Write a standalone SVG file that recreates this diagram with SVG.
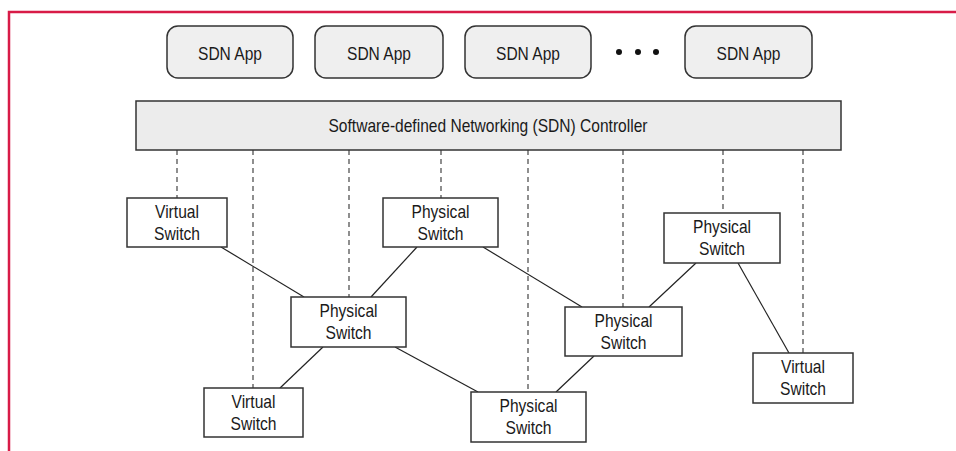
<svg xmlns="http://www.w3.org/2000/svg" width="956" height="451" viewBox="0 0 956 451">
<style>
  .frame { fill: none; stroke: #d81b47; stroke-width: 2.5; }
  .app { fill: #efefef; stroke: #333; stroke-width: 1.5; }
  .ctrl { fill: #ececec; stroke: #333; stroke-width: 1.5; }
  .sw { fill: #ffffff; stroke: #333; stroke-width: 1.5; }
  .t { font-family: "Liberation Sans", Arial, sans-serif; font-size: 19px; fill: #1a1a1a; text-anchor: middle; }
  .dash { stroke: #333; stroke-width: 1.1; stroke-dasharray: 5 4; fill: none; }
  .link { stroke: #222; stroke-width: 1.2; fill: none; }
  .dot { fill: #111; }
</style>
<rect width="956" height="451" fill="#ffffff"/>
<path class="frame" d="M9,451 V12 H956"/>

<g id="connectors">
  <line class="dash" x1="177" y1="150" x2="177" y2="198"/>
  <line class="dash" x1="253" y1="150" x2="253" y2="388"/>
  <line class="dash" x1="349" y1="150" x2="349" y2="297"/>
  <line class="dash" x1="441" y1="150" x2="441" y2="198"/>
  <line class="dash" x1="528" y1="150" x2="528" y2="392"/>
  <line class="dash" x1="623" y1="150" x2="623" y2="307"/>
  <line class="dash" x1="723" y1="150" x2="723" y2="213"/>
  <line class="dash" x1="803" y1="150" x2="803" y2="353"/>
  <line class="link" x1="221" y1="247" x2="304" y2="297"/>
  <line class="link" x1="417" y1="247" x2="371" y2="297"/>
  <line class="link" x1="483" y1="247" x2="582" y2="307"/>
  <line class="link" x1="323" y1="347" x2="280" y2="388"/>
  <line class="link" x1="395" y1="347" x2="478" y2="392"/>
  <line class="link" x1="594" y1="356" x2="556" y2="392"/>
  <line class="link" x1="696" y1="263" x2="649" y2="307"/>
  <line class="link" x1="738" y1="263" x2="789" y2="353"/>
</g>

<g id="app1">
  <rect class="app" x="167" y="26" width="126" height="52" rx="11"/>
  <text class="t" x="230" y="60" textLength="64" lengthAdjust="spacingAndGlyphs">SDN App</text>
</g>
<g id="app2">
  <rect class="app" x="315" y="26" width="128" height="52" rx="11"/>
  <text class="t" x="379" y="60" textLength="64" lengthAdjust="spacingAndGlyphs">SDN App</text>
</g>
<g id="app3">
  <rect class="app" x="465" y="26" width="126" height="52" rx="11"/>
  <text class="t" x="528" y="60" textLength="64" lengthAdjust="spacingAndGlyphs">SDN App</text>
</g>
<g id="ellipsis">
  <circle class="dot" cx="619" cy="52" r="3"/>
  <circle class="dot" cx="638" cy="52" r="3"/>
  <circle class="dot" cx="656" cy="52" r="3"/>
</g>
<g id="app4">
  <rect class="app" x="685" y="26" width="127" height="52" rx="11"/>
  <text class="t" x="748.5" y="60" textLength="64" lengthAdjust="spacingAndGlyphs">SDN App</text>
</g>

<g id="controller">
  <rect class="ctrl" x="136" y="101" width="705" height="49"/>
  <text class="t" x="488" y="132" textLength="319" lengthAdjust="spacingAndGlyphs">Software-defined Networking (SDN) Controller</text>
</g>

<g id="vs1">
  <rect class="sw" x="127" y="198" width="100" height="49"/>
  <text class="t" x="177" y="218" textLength="44" lengthAdjust="spacingAndGlyphs">Virtual</text>
  <text class="t" x="177" y="240" textLength="46" lengthAdjust="spacingAndGlyphs">Switch</text>
</g>
<g id="ps2">
  <rect class="sw" x="383" y="198" width="115" height="49"/>
  <text class="t" x="440.5" y="218" textLength="58" lengthAdjust="spacingAndGlyphs">Physical</text>
  <text class="t" x="440.5" y="240" textLength="46" lengthAdjust="spacingAndGlyphs">Switch</text>
</g>
<g id="ps3">
  <rect class="sw" x="291" y="297" width="115" height="50"/>
  <text class="t" x="348.5" y="317" textLength="58" lengthAdjust="spacingAndGlyphs">Physical</text>
  <text class="t" x="348.5" y="339" textLength="46" lengthAdjust="spacingAndGlyphs">Switch</text>
</g>
<g id="vs4">
  <rect class="sw" x="204" y="388" width="99" height="49"/>
  <text class="t" x="253.5" y="408" textLength="44" lengthAdjust="spacingAndGlyphs">Virtual</text>
  <text class="t" x="253.5" y="430" textLength="46" lengthAdjust="spacingAndGlyphs">Switch</text>
</g>
<g id="ps5">
  <rect class="sw" x="471" y="392" width="115" height="50"/>
  <text class="t" x="528.5" y="412" textLength="58" lengthAdjust="spacingAndGlyphs">Physical</text>
  <text class="t" x="528.5" y="434" textLength="46" lengthAdjust="spacingAndGlyphs">Switch</text>
</g>
<g id="ps6">
  <rect class="sw" x="565" y="307" width="117" height="49"/>
  <text class="t" x="623.5" y="327" textLength="58" lengthAdjust="spacingAndGlyphs">Physical</text>
  <text class="t" x="623.5" y="349" textLength="46" lengthAdjust="spacingAndGlyphs">Switch</text>
</g>
<g id="ps7">
  <rect class="sw" x="664" y="213" width="116" height="50"/>
  <text class="t" x="722" y="233" textLength="58" lengthAdjust="spacingAndGlyphs">Physical</text>
  <text class="t" x="722" y="255" textLength="46" lengthAdjust="spacingAndGlyphs">Switch</text>
</g>
<g id="vs8">
  <rect class="sw" x="753" y="353" width="100" height="50"/>
  <text class="t" x="803" y="373" textLength="44" lengthAdjust="spacingAndGlyphs">Virtual</text>
  <text class="t" x="803" y="395" textLength="46" lengthAdjust="spacingAndGlyphs">Switch</text>
</g>
</svg>
